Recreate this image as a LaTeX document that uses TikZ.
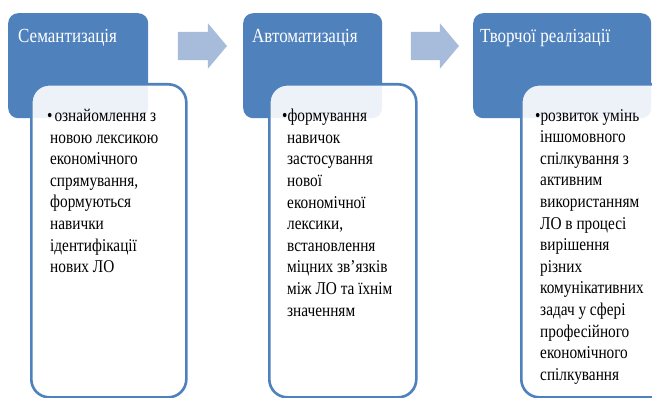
\documentclass[tikz,border=0pt]{standalone}
\usepackage{fontspec}
\setmainfont{Liberation Serif}
\newfontfamily\narrowserif[FakeStretch=0.85]{Liberation Serif}
\usetikzlibrary{shapes.arrows}
\definecolor{stageblue}{HTML}{4F81BD}
\definecolor{arrowblue}{HTML}{A7BBDB}

\begin{document}
\begin{tikzpicture}[
    x=1pt, y=-1pt,
    stage/.style={rectangle, rounded corners=10pt, fill=stageblue, inner sep=0pt, minimum height=105pt, anchor=north west},
    stagetitle/.style={text=white, inner sep=0pt, anchor=base west, font={\narrowserif\fontsize{20}{24}\selectfont}},
    detail/.style={rectangle, rounded corners=18pt, draw=stageblue, line width=2.6pt, fill=white, fill opacity=0.9, inner sep=0pt, minimum height=313pt, anchor=north west},
    detailtext/.style={inner sep=0pt, align=left, anchor=north west, font={\narrowserif\fontsize{18}{21.6}\selectfont}},
    step arrow/.style={single arrow, fill=arrowblue, inner xsep=0pt, inner ysep=14pt, single arrow head extend=8.5pt, single arrow tip angle=100}
]
\useasboundingbox (0,0) rectangle (652,398);
\clip (0,0) rectangle (652,398);

% Stage headers
\node[stage, minimum width=140pt] (sem) at (8,13) {};
\node[stage, minimum width=139pt] (auto) at (243,13) {};
\node[stage, minimum width=178pt] (creat) at (473,13) {};

\node[stagetitle] (semtitle) at (18,43) {Семантизація};
\node[stagetitle] (autotitle) at (252,43) {Автоматизація};
\node[stagetitle] (creattitle) at (480,43) {Творчої реалізації};

% Arrows between stages
\node[step arrow, minimum height=49pt] (arrowa) at (196.5,46) {};
\node[step arrow, minimum height=48pt] (arrowb) at (429,46) {};

% Detail boxes
\node[detail, minimum width=155pt] (semdetail) at (30,83) {};
\node[detail, minimum width=147pt] (autodetail) at (268,83) {};
\node[detail, minimum width=160pt] (creatdetail) at (520,83) {};

\node[detailtext] (semtext) at (50,109) {\hspace*{-3pt}•\hspace{2pt}ознайомлення з\\новою лексикою\\економічного\\спрямування,\\формуються\\навички\\ідентифікації\\нових ЛО};
\node[detailtext] (autotext) at (287,109) {\hspace*{-5pt}•формування\\навичок\\застосування\\нової\\економічної\\лексики,\\встановлення\\міцних зв’язків\\між ЛО та їхнім\\значенням};
\node[detailtext] (creattext) at (540,109) {\hspace*{-5pt}•розвиток умінь\\іншомовного\\спілкування з\\активним\\використанням\\ЛО в процесі\\вирішення\\різних\\комунікативних\\задач у сфері\\професійного\\економічного\\спілкування};

\end{tikzpicture}
\end{document}
